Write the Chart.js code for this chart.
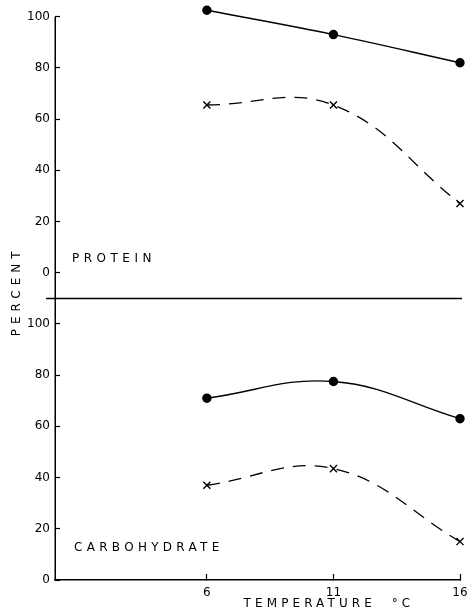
<!DOCTYPE html>
<html>
<head>
<meta charset="utf-8">
<script src="https://cdn.jsdelivr.net/npm/chart.js@4/dist/chart.umd.min.js"></script>
<style>
  html, body { margin: 0; padding: 0; background: #fff; }
  #wrap { position: relative; width: 467px; height: 616px; }
</style>
</head>
<body>
<div id="wrap"><canvas id="c" width="467" height="616"></canvas></div>
<script>
// ---- data ----
const temperatures = [6, 11, 16];
const xTickValues = [6, 11, 16];
const yTickValues = [0, 20, 40, 60, 80, 100];

const proteinSolid = [102.5, 93, 82];
const proteinDashed = [65.5, 65.5, 27];
const carbSolid = [71, 77.5, 63];
const carbDashed = [37, 43.5, 15];

const panelLabels = { top: 'PROTEIN', bottom: 'CARBOHYDRATE' };
const xTitle = 'TEMPERATURE  °C';
const yTitle = 'PERCENT';

const FONT = '"DejaVu Sans", sans-serif';

// axis ranges (top panel has headroom for the 102.5 point above its 100 tick)
const TOP_MIN = -10, TOP_MAX = 104, BOT_MIN = 0, BOT_MAX = 110;

function pts(vals) { return temperatures.map((t, i) => ({ x: t, y: vals[i] })); }

function solidSet(vals, axis) {
  return {
    data: pts(vals), yAxisID: axis,
    borderColor: '#000', backgroundColor: '#000', borderWidth: 1.4,
    pointStyle: 'circle', pointRadius: 4, pointBackgroundColor: '#000', pointBorderColor: '#000',
    tension: 0.4, clip: false
  };
}
function dashedSet(vals, axis) {
  return {
    data: pts(vals), yAxisID: axis,
    borderColor: '#000', backgroundColor: '#000', borderWidth: 1.3, borderDash: [13, 9],
    pointStyle: 'crossRot', pointRadius: 5, pointBorderWidth: 1.4, pointBorderColor: '#000',
    tension: 0.4, clip: false
  };
}

const textPlugin = {
  id: 'texts',
  afterDraw(chart) {
    const ctx = chart.ctx;
    const xs = chart.scales.x, yt = chart.scales.yTop, yb = chart.scales.yBot;
    const ca = chart.chartArea;
    ctx.save();
    ctx.strokeStyle = '#000';
    ctx.lineWidth = 1.5;
    // vertical axis line from top 100 down to bottom 0
    const xl = Math.round(ca.left) + 0.25;
    ctx.beginPath();
    ctx.moveTo(xl, yt.getPixelForValue(100));
    ctx.lineTo(xl, yb.getPixelForValue(0));
    ctx.stroke();
    // panel divider at the bottom of the top panel
    const yd = Math.round(yt.getPixelForValue(-10)) + 0.5;
    ctx.beginPath();
    ctx.moveTo(ca.left - 9, yd);
    ctx.lineTo(ca.right + 2, yd);
    ctx.stroke();

    ctx.fillStyle = '#000';
    ctx.font = '12px ' + FONT;
    ctx.textBaseline = 'middle';
    ctx.textAlign = 'left';
    ctx.letterSpacing = '4.5px';
    ctx.fillText(panelLabels.top, xs.getPixelForValue(0.67), yt.getPixelForValue(5.4));
    ctx.letterSpacing = '4.3px';
    ctx.fillText(panelLabels.bottom, xs.getPixelForValue(0.75), yb.getPixelForValue(12.4));
    ctx.letterSpacing = '4.1px';
    ctx.fillText(xTitle, xs.getPixelForValue(7.45), ca.bottom + 24);

    // vertical axis title
    ctx.letterSpacing = '5px';
    ctx.translate(17, (yt.getPixelForValue(-10) + yb.getPixelForValue(110)) / 2 - 7);
    ctx.rotate(-Math.PI / 2);
    ctx.textAlign = 'center';
    ctx.fillText(yTitle, 0, 0);
    ctx.restore();
  }
};

function yAxis(min, max) {
  return {
    type: 'linear', position: 'left', stack: 'panels', stackWeight: max - min,
    min: min, max: max,
    afterBuildTicks: (s) => { s.ticks = yTickValues.map(v => ({ value: v })); },
    afterFit: (s) => { s.width = 55; s.paddingTop = 0; s.paddingBottom = 0; },
    grid: { drawOnChartArea: false, drawTicks: true, tickLength: -5, tickColor: '#000', tickWidth: 1.2 },
    border: { display: false },
    ticks: { color: '#000', font: { family: FONT, size: 12 }, padding: 10 }
  };
}

new Chart(document.getElementById('c'), {
  type: 'line',
  data: {
    datasets: [
      solidSet(proteinSolid, 'yTop'),
      dashedSet(proteinDashed, 'yTop'),
      solidSet(carbSolid, 'yBot'),
      dashedSet(carbDashed, 'yBot')
    ]
  },
  options: {
    responsive: false,
    animation: false,
    events: [],
    layout: { padding: { left: 0, top: 3.7, right: 7, bottom: 0 } },
    plugins: { legend: { display: false }, tooltip: { enabled: false }, title: { display: false } },
    scales: {
      x: {
        type: 'linear', position: 'bottom', min: 0, max: 16,
        afterBuildTicks: (s) => { s.ticks = xTickValues.map(v => ({ value: v })); },
        afterFit: (s) => { s.height = 36; s.paddingLeft = 0; s.paddingRight = 0; },
        grid: { drawOnChartArea: false, drawTicks: true, tickLength: -6, tickColor: '#000', tickWidth: 1.2 },
        border: { display: true, color: '#000', width: 1.5 },
        ticks: { color: '#000', font: { family: FONT, size: 12 }, padding: 12, maxRotation: 0 }
      },
      yBot: yAxis(BOT_MIN, BOT_MAX),
      yTop: yAxis(TOP_MIN, TOP_MAX)
    }
  },
  plugins: [textPlugin]
});
</script>
</body>
</html>
